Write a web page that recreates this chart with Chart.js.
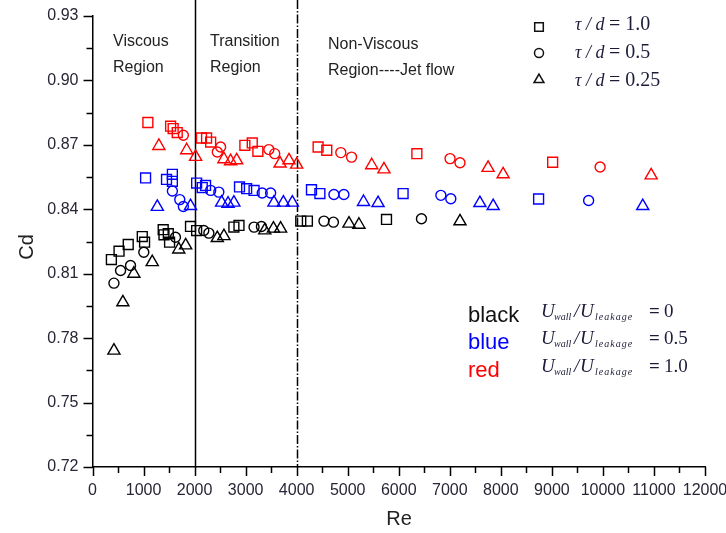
<!DOCTYPE html>
<html>
<head>
<meta charset="utf-8">
<script src="https://cdn.jsdelivr.net/npm/chart.js@4.4.0/dist/chart.umd.min.js"></script>
<style>
  html, body { margin: 0; padding: 0; background: #fff; }
</style>
</head>
<body>
<canvas id="cdChart" width="726" height="533"></canvas>
<script>
// [Re, Cd]; colour = Uwall/Uleakage, marker = tau/d
const blackSquare = [[370,0.8166],[520,0.8205],[700,0.8236],[975,0.8273],[1020,0.8247],[1385,0.8305],[1400,0.8281],[1485,0.8286],[1510,0.8247],[1920,0.8320],[2040,0.8301],[2770,0.8317],[2870,0.8325],[4080,0.8345],[4210,0.8345],[5760,0.8353]];
const blackCircle = [[420,0.8056],[550,0.8115],[745,0.8138],[1005,0.8200],[1625,0.8270],[2180,0.8301],[2280,0.8289],[3165,0.8317],[3310,0.8320],[4535,0.8345],[4720,0.8340],[6445,0.8356]];
const blackTriangle = [[420,0.7742],[595,0.7967],[810,0.8100],[1170,0.8154],[1690,0.8213],[1825,0.8232],[2445,0.8266],[2575,0.8275],[3375,0.8302],[3545,0.8310],[3685,0.8310],[5025,0.8333],[5220,0.8328],[7200,0.8344]];

const blueSquare = [[1040,0.8546],[1450,0.8539],[1565,0.8563],[1565,0.8530],[2040,0.8522],[2150,0.8501],[2215,0.8511],[2880,0.8504],[3020,0.8496],[3165,0.8488],[4290,0.8491],[4455,0.8473],[6085,0.8473],[8740,0.8448]];
const blueCircle = [[1565,0.8485],[1710,0.8445],[1780,0.8413],[2315,0.8488],[2475,0.8480],[3325,0.8476],[3490,0.8476],[4730,0.8469],[4925,0.8469],[6825,0.8465],[7020,0.8449],[9720,0.8441]];
const blueTriangle = [[1270,0.8411],[1920,0.8415],[2530,0.8431],[2655,0.8426],[2770,0.8431],[3555,0.8431],[3740,0.8431],[3915,0.8431],[5310,0.8434],[5595,0.8429],[7590,0.8429],[7850,0.8415],[10780,0.8415]];

const redSquare = [[1085,0.8804],[1530,0.8787],[1580,0.8776],[1660,0.8757],[2135,0.8732],[2235,0.8732],[2315,0.8713],[2985,0.8698],[3130,0.8709],[3240,0.8670],[4420,0.8690],[4590,0.8675],[6355,0.8659],[9015,0.8619]];
const redCircle = [[1780,0.8745],[2445,0.8667],[2510,0.8690],[3455,0.8678],[3570,0.8659],[4865,0.8664],[5075,0.8643],[7005,0.8636],[7200,0.8617],[9945,0.8597]];
const redTriangle = [[1300,0.8695],[1845,0.8675],[2020,0.8644],[2575,0.8633],[2705,0.8624],[2825,0.8628],[3675,0.8613],[3850,0.8628],[4000,0.8608],[5470,0.8605],[5710,0.8586],[7750,0.8593],[8045,0.8563],[10945,0.8558]];

// axes
const reMin = 0, reMax = 12000, reStep = 1000;
const cdMin = 0.72, cdMax = 0.93, cdStep = 0.03;
const regionBounds = [2000, 4000];
const tauLabels = ['1.0', '0.5', '0.25'];
const ratioLabels = ['0', '0.5', '1.0'];
const colourNames = ['black', 'blue', 'red'];

const BLUE = '#0000ff', RED = '#ff0000', BLACK = '#000000';
const SANS = '"Liberation Sans", Arial, sans-serif';
const SERIF = '"Liberation Serif", "Times New Roman", serif';

function series(label, pts, color, style, r) {
  return {
    label,
    data: pts.map(([x, y]) => ({ x, y })),
    pointStyle: style,
    pointRadius: r,
    borderColor: color,
    backgroundColor: 'rgba(0,0,0,0)',
    pointBorderWidth: 1.4,
    showLine: false
  };
}

function drawMarker(ctx, style, x, y, r) {
  ctx.beginPath();
  if (style === 'rect') {
    ctx.rect(x - r, y - r, 2 * r, 2 * r);
  } else if (style === 'circle') {
    ctx.arc(x, y, r, 0, Math.PI * 2);
  } else {
    ctx.moveTo(x, y - r * 1.1);
    ctx.lineTo(x + r * 1.1, y + r * 0.8);
    ctx.lineTo(x - r * 1.1, y + r * 0.8);
    ctx.closePath();
  }
  ctx.stroke();
}

const figureDecor = {
  id: 'figureDecor',
  beforeDatasetsDraw(chart) {
    const { ctx, chartArea: a, scales: { x } } = chart;
    ctx.save();
    ctx.strokeStyle = '#000';
    ctx.lineWidth = 1.5;
    regionBounds.forEach((re, i) => {
      const px = Math.round(x.getPixelForValue(re)) + 0.5;
      ctx.setLineDash(i === 0 ? [] : [9, 2, 1.5, 2]);
      ctx.beginPath();
      ctx.moveTo(px, 0);
      ctx.lineTo(px, a.bottom);
      ctx.stroke();
    });
    ctx.restore();
  },
  afterDraw(chart) {
    const { ctx, chartArea: a, scales: { x, y } } = chart;
    ctx.save();

    // outward ticks, minor ones halfway
    ctx.strokeStyle = '#000';
    ctx.lineWidth = 1.5;
    for (let i = 0; i <= (reMax - reMin) / (reStep / 2); i++) {
      const px = Math.round(x.getPixelForValue(reMin + i * reStep / 2)) + 0.5;
      const len = i % 2 === 0 ? 9 : 6;
      ctx.beginPath(); ctx.moveTo(px, a.bottom); ctx.lineTo(px, a.bottom + len); ctx.stroke();
    }
    const nY = Math.round((cdMax - cdMin) / (cdStep / 2));
    for (let i = 0; i <= nY; i++) {
      const py = Math.round(y.getPixelForValue(cdMin + i * cdStep / 2)) + 0.5;
      const len = i % 2 === 0 ? 9 : 6;
      ctx.beginPath(); ctx.moveTo(a.left, py); ctx.lineTo(a.left - len, py); ctx.stroke();
    }

    // axis titles
    ctx.fillStyle = '#222';
    ctx.font = '20px ' + SANS;
    ctx.textAlign = 'center';
    ctx.textBaseline = 'middle';
    ctx.fillText('Re', 399, 519);
    ctx.save();
    ctx.translate(27, 247);
    ctx.rotate(-Math.PI / 2);
    ctx.fillText('Cd', 0, 0);
    ctx.restore();

    // flow regions
    ctx.textAlign = 'left';
    ctx.textBaseline = 'alphabetic';
    ctx.font = '16px ' + SANS;
    ctx.fillText('Viscous', 113, 46);
    ctx.fillText('Region', 113, 72);
    ctx.fillText('Transition', 210, 46);
    ctx.fillText('Region', 210, 72);
    ctx.fillText('Non-Viscous', 328, 49);
    ctx.fillText('Region----Jet flow', 328, 75);

    // marker key
    const styles = ['rect', 'circle', 'triangle'];
    const markerY = [27, 53, 79];
    const textY = [30, 58, 86];
    ctx.strokeStyle = '#111';
    ctx.lineWidth = 1.5;
    styles.forEach((s, i) => {
      drawMarker(ctx, s, 539, markerY[i], s === 'rect' ? 4.3 : 4.5);
      ctx.fillStyle = '#1c1c3a';
      ctx.font = 'italic 18px ' + SERIF;
      ctx.fillText('\u03c4 / d', 575, textY[i]);
      ctx.font = '20px ' + SERIF;
      ctx.fillText('= ' + tauLabels[i], 609, textY[i]);
    });

    // colour key
    const wordY = [322, 349, 377];
    const formY = [317, 344, 372];
    const wordColors = ['#111', BLUE, RED];
    colourNames.forEach((name, i) => {
      ctx.fillStyle = wordColors[i];
      ctx.font = '22px ' + SANS;
      ctx.fillText(name, 468, wordY[i]);
      const by = formY[i];
      ctx.fillStyle = '#1c1c3a';
      ctx.font = 'italic 19px ' + SERIF;
      ctx.fillText('U', 541, by);
      ctx.fillText('/', 574, by);
      ctx.fillText('U', 580, by);
      ctx.font = 'italic 10px ' + SERIF;
      ctx.fillText('wall', 554, by + 3);
      ctx.letterSpacing = '1px';
      ctx.fillText('leakage', 595, by + 3);
      ctx.letterSpacing = '0px';
      ctx.font = 'bold 19px ' + SERIF;
      ctx.fillText('=', 649, by);
      ctx.font = '19px ' + SERIF;
      ctx.fillText(ratioLabels[i], 664, by);
    });

    ctx.restore();
  }
};

new Chart(document.getElementById('cdChart'), {
  type: 'scatter',
  data: {
    datasets: [
      series('black tau/d=1.0', blackSquare, BLACK, 'rect', 7),
      series('blue tau/d=1.0', blueSquare, BLUE, 'rect', 7),
      series('red tau/d=1.0', redSquare, RED, 'rect', 7),
      series('black tau/d=0.5', blackCircle, BLACK, 'circle', 5),
      series('blue tau/d=0.5', blueCircle, BLUE, 'circle', 5),
      series('red tau/d=0.5', redCircle, RED, 'circle', 5),
      series('black tau/d=0.25', blackTriangle, BLACK, 'triangle', 7),
      series('blue tau/d=0.25', blueTriangle, BLUE, 'triangle', 7),
      series('red tau/d=0.25', redTriangle, RED, 'triangle', 7)
    ]
  },
  options: {
    responsive: false,
    animation: false,
    events: [],
    layout: { padding: { top: 16, right: 21, left: 0, bottom: 0 } },
    plugins: { legend: { display: false }, tooltip: { enabled: false } },
    scales: {
      x: {
        type: 'linear',
        min: reMin,
        max: reMax,
        afterFit: s => { s.height = 66; s.paddingLeft = 0; s.paddingRight = 0; },
        border: { display: true, color: '#000', width: 1.5 },
        grid: { display: true, drawOnChartArea: false, drawTicks: false },
        ticks: {
          stepSize: reStep,
          autoSkip: false,
          maxRotation: 0,
          padding: 14,
          color: '#262636',
          font: { family: SANS, size: 16 },
          callback: v => String(Math.round(v))
        }
      },
      y: {
        type: 'linear',
        min: cdMin,
        max: cdMax,
        afterFit: s => { s.width = 92.5; s.paddingTop = 0; s.paddingBottom = 0; },
        border: { display: true, color: '#000', width: 1.5 },
        grid: { display: true, drawOnChartArea: false, drawTicks: false },
        ticks: {
          stepSize: cdStep,
          padding: 14,
          color: '#262636',
          font: { family: SANS, size: 16 },
          callback: v => Number(v).toFixed(2)
        }
      }
    }
  },
  plugins: [figureDecor]
});
</script>
</body>
</html>
